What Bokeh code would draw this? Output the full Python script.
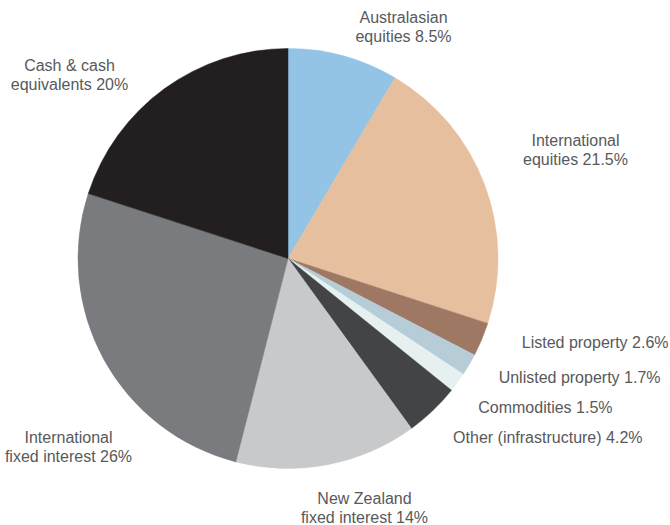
import numpy as np
from bokeh.plotting import figure
from bokeh.models import ColumnDataSource, Range1d
from bokeh.core.properties import value
from bokeh.embed import file_html
from bokeh.resources import INLINE

categories = ["Australasian equities", "International equities", "Listed property",
              "Unlisted property", "Commodities", "Other (infrastructure)",
              "New Zealand fixed interest", "International fixed interest",
              "Cash & cash equivalents"]
shares = [8.5, 21.5, 2.6, 1.7, 1.5, 4.2, 14, 26, 20]
colors = ["#93c4e6", "#e6bf9e", "#9e7863", "#b6ccd6", "#e6f0f1",
          "#434446", "#c8c9cb", "#7a7b7f", "#231f20"]

label_lines = [["Australasian", "equities 8.5%"],
               ["International", "equities 21.5%"],
               ["Listed property 2.6%"],
               ["Unlisted property 1.7%"],
               ["Commodities 1.5%"],
               ["Other (infrastructure) 4.2%"],
               ["New Zealand", "fixed interest 14%"],
               ["International", "fixed interest 26%"],
               ["Cash & cash", "equivalents 20%"]]

W, H = 670, 525
cx, cy, r = 287.5, H - 258, 210

vals = np.array(shares, dtype=float)
frac = vals / vals.sum()
ends = np.cumsum(frac)
starts = ends - frac
start_angle = np.pi / 2 - starts * 2 * np.pi
end_angle = np.pi / 2 - ends * 2 * np.pi

src = ColumnDataSource(dict(start=start_angle, end=end_angle, color=colors, cat=categories))

p = figure(width=W, height=H, x_range=Range1d(0, W), y_range=Range1d(0, H),
           output_backend="svg", toolbar_location=None, min_border=0,
           outline_line_color=None)
p.axis.visible = False
p.grid.visible = False
p.background_fill_color = "white"
p.border_fill_color = "white"

p.wedge(x=cx, y=cy, radius=r, start_angle="start", end_angle="end",
        direction="clock", fill_color="color", line_color="color",
        line_width=0.5, source=src)

# label anchor positions (pixel layout), alignment
anchors = [(403, 17, "center"), (575, 140, "center"), (668, 342, "right"),
           (660, 377, "right"), (612, 407, "right"), (642, 437, "right"),
           (364, 498, "center"), (68, 437, "center"), (69, 65, "center")]
lh = 19
tx, ty, tt, ta = [], [], [], []
for (x, y, al), lines in zip(anchors, label_lines):
    for i, ln in enumerate(lines):
        tx.append(x)
        ty.append(H - (y + i * lh))
        tt.append(ln)
        ta.append(al)

tsrc = ColumnDataSource(dict(x=tx, y=ty, t=tt, a=ta))
p.text(x="x", y="y", text="t", text_align="a", text_baseline="middle",
       text_font=value("Liberation Sans"), text_font_size="16px",
       text_color="#58595b", source=tsrc)

open("out.html", "w").write(file_html(p, INLINE))
